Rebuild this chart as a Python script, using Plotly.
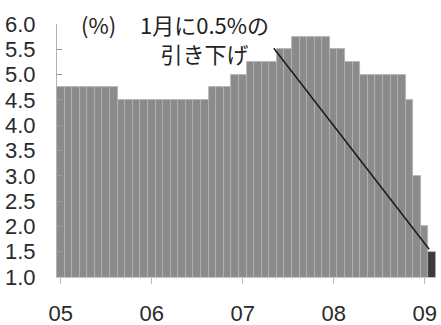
import plotly.graph_objects as go

# Monthly policy rate (%), value in force at the start of each month, Jan 2005 - Feb 2009
months = [f"{y}-{m:02d}" for y in range(2005, 2010) for m in range(1, 13)][:50]
rates = (
    [4.75] * 8 + [4.5] * 4 +                      # 2005
    [4.5] * 8 + [4.75] * 3 + [5.0] +              # 2006
    [5.0] + [5.25] * 4 + [5.5] * 2 + [5.75] * 5 + # 2007
    [5.5] * 2 + [5.25] * 2 + [5.0] * 6 + [4.5, 3.0] +  # 2008
    [2.0, 1.5]                                    # 2009
)
year_ticks = ["2005-01", "2006-01", "2007-01", "2008-01", "2009-01"]
year_labels = ["05", "06", "07", "08", "09"]
y_ticks = [1.0, 1.5, 2.0, 2.5, 3.0, 3.5, 4.0, 4.5, 5.0, 5.5, 6.0]

idx = list(range(len(months)))
bar_colors = ["#8b8b8b"] * (len(months) - 1) + ["#3b3b3b"]
tick_pos = [months.index(t) for t in year_ticks]

fig = go.Figure(go.Bar(
    x=idx, y=rates, base=0,
    marker=dict(color=bar_colors, line=dict(color="#b4b4b4", width=0.8)),
    width=1.0,
))

tick_font = dict(family="Liberation Sans, Arial, sans-serif", size=22, color="#2a2a2a")
jp_font = dict(family="Noto Sans CJK JP, sans-serif", size=22, color="#222222")

fig.update_layout(
    width=441, height=325,
    margin=dict(l=57, r=5, t=24, b=48),
    paper_bgcolor="white", plot_bgcolor="white",
    showlegend=False, bargap=0,
    xaxis=dict(
        range=[-0.5, len(months) - 0.5],
        tickvals=tick_pos, ticktext=year_labels,
        tickfont=tick_font, ticks="outside", ticklen=6, tickcolor="#bdbdbd",
        showline=True, linecolor="#c8c8c8", linewidth=1,
        showgrid=False, zeroline=False, ticklabelstandoff=11,
        automargin=False,
    ),
    yaxis=dict(
        range=[1.0, 6.0],
        tickvals=y_ticks, ticktext=[f"{v:.1f}" for v in y_ticks],
        tickfont=tick_font, ticks="inside", ticklen=5, tickcolor="#9a9a9a",
        showline=True, linecolor="#b0b0b0", linewidth=1,
        showgrid=False, zeroline=False, ticklabelstandoff=16,
        automargin=False,
    ),
)

# unit label and callout text
fig.add_annotation(x=0.062, y=1.0, xref="paper", yref="paper", text="(%)",
                   showarrow=False, font=jp_font, xanchor="left", yanchor="middle",
                   borderpad=0)
fig.add_annotation(x=0.388, y=1.066, xref="paper", yref="paper",
                   text="1月に0.5%の<br>引き下げ", align="center",
                   showarrow=False, font=jp_font, xanchor="center", yanchor="top",
                   borderpad=0)

# leader line from the callout to the latest bar
last = len(months) - 1
fig.add_shape(type="line", xref="x", yref="y",
              x0=28.1, y0=5.52, x1=last - 0.4, y1=rates[-1] + 0.05,
              line=dict(color="#1a1a1a", width=1.5))

fig.write_html("out.html")
